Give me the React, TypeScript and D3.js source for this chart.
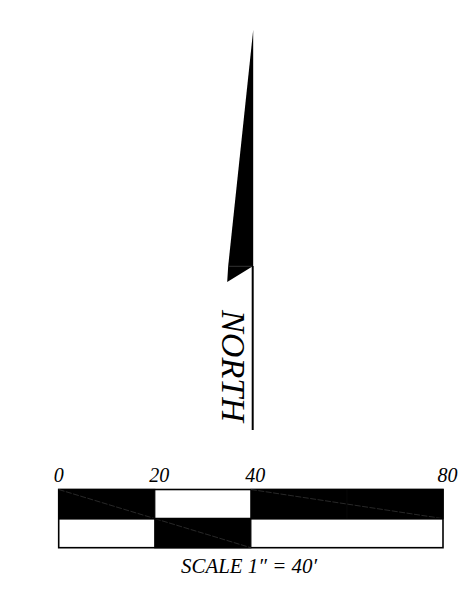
import React from "react";
import * as d3 from "d3";

const W = 461, H = 590;
const tickValues = [0, 20, 40, 80];
const topBlack = [[0, 20], [40, 80]];
const bottomBlack = [[20, 40]];
const minorTicks = [60];
const rows = ["top", "mid", "bottom"];
const scaleLabel = "SCALE 1\u2033 = 40\u2032";
const northLabel = "NORTH";
const needleFt = [[0, 0], [0, 236], [-26, 252], [-25, 236]];

export default function App() {
  const x = d3.scaleLinear().domain([0, 80]).range([58.7, 443]);
  const y = d3.scalePoint<string>().domain(rows).range([489.5, 547.7]);
  const yt = y("top")!, ym = y("mid")!, yb = y("bottom")!;
  const font = "'Liberation Serif'";
  const ax = 253.2, ay = 30;
  const needle = d3.line()(needleFt.map(([dx, dy]) => [ax + dx, ay + dy] as [number, number]))! + "Z";
  return (
    <svg width={W} height={H} style={{ position: "absolute", left: 0, top: 0, background: "#fff" }}>
      <path d={needle} fill="#000" />
      <path d={`M${ax - 24},266.3H${ax - 1}`} stroke="#555" strokeWidth={0.6} />
      <path d={`M${ax - 0.5},266V430`} stroke="#000" strokeWidth={2} fill="none" />
      <text
        transform={`translate(222,310) rotate(90)`}
        fontFamily={font} fontStyle="italic" fontSize={34} fill="#000"
        textLength={112} lengthAdjust="spacingAndGlyphs"
      >{northLabel}</text>

      {tickValues.map((t) => (
        <text key={t} x={x(t) + (t === 0 ? 0 : 4.4)} y={482} textAnchor="middle"
          fontFamily={font} fontStyle="italic" fontSize={20} fill="#000">{t}</text>
      ))}

      <rect x={x(0)} y={yt} width={x(80) - x(0)} height={yb - yt} fill="#fff" stroke="#000" strokeWidth={1.6} />
      {topBlack.map(([a, b]) => (
        <g key={a}>
          <rect x={x(a)} y={yt} width={x(b) - x(a)} height={ym - yt} fill="#000" stroke="#000" strokeWidth={1.2} />
          <line x1={x(a)} y1={yt} x2={x(b)} y2={ym} stroke="#888" strokeWidth={0.3} strokeDasharray="6 1.5" />
        </g>
      ))}
      {bottomBlack.map(([a, b]) => (
        <g key={a}>
          <rect x={x(a)} y={ym} width={x(b) - x(a)} height={yb - ym} fill="#000" stroke="#000" strokeWidth={1.2} />
          <line x1={x(a)} y1={ym} x2={x(b)} y2={yb} stroke="#888" strokeWidth={0.3} strokeDasharray="6 1.5" />
        </g>
      ))}
      <line x1={x(0)} x2={x(80)} y1={ym} y2={ym} stroke="#000" strokeWidth={1.6} />
      {minorTicks.map((t) => (
        <line key={t} x1={x(t)} x2={x(t)} y1={yt} y2={ym} stroke="#1c1c1c" strokeWidth={0.3} />
      ))}

      <text x={249} y={573} textAnchor="middle" fontFamily={font} fontStyle="italic" fontSize={21} fill="#000"
        textLength={136} lengthAdjust="spacingAndGlyphs">{scaleLabel}</text>
    </svg>
  );
}
